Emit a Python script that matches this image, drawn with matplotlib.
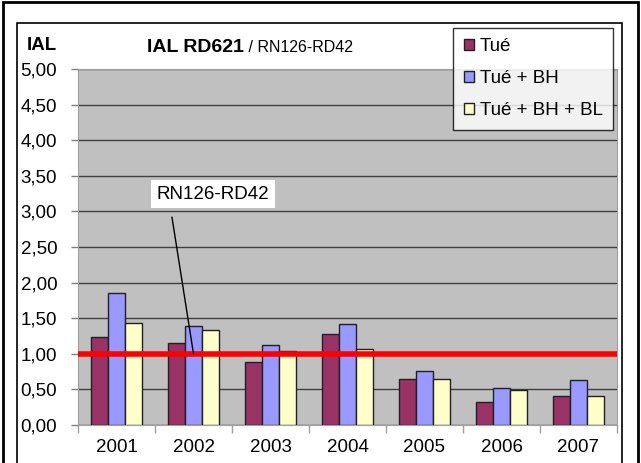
import matplotlib
matplotlib.use("Agg")
import matplotlib.pyplot as plt
import numpy as np
from matplotlib.patches import Rectangle

years = ["2001", "2002", "2003", "2004", "2005", "2006", "2007"]
tue = [1.23, 1.15, 0.88, 1.28, 0.64, 0.33, 0.41]
tue_bh = [1.86, 1.39, 1.12, 1.42, 0.76, 0.52, 0.63]
tue_bh_bl = [1.43, 1.33, 1.04, 1.07, 0.64, 0.49, 0.41]
series_names = ["Tué", "Tué + BH", "Tué + BH + BL"]
colors = ["#993366", "#9999FF", "#FFFFCC"]
ref_level = 1.0
yticks = [0, 0.5, 1.0, 1.5, 2.0, 2.5, 3.0, 3.5, 4.0, 4.5, 5.0]

plt.rcParams['font.family'] = ['Liberation Sans', 'DejaVu Sans']

W, H = 641, 463
fig = plt.figure(figsize=(W / 100, H / 100), dpi=100)

# borders
fig.patches.append(Rectangle((3 / W, -0.05), 635 / W, (H - 2) / H + 0.05, transform=fig.transFigure,
                             fill=False, edgecolor="black", linewidth=2.0))
fig.patches.append(Rectangle((17 / W, -0.05), 605 / W, (H - 23) / H + 0.05, transform=fig.transFigure,
                             fill=False, edgecolor="black", linewidth=1.2))

ax = fig.add_axes([78 / W, 38 / H, 539 / W, 356 / H])
ax.set_facecolor("#C0C0C0")

x = np.arange(len(years))
bw = 0.22
for i, (vals, name, c) in enumerate(zip([tue, tue_bh, tue_bh_bl], series_names, colors)):
    ax.bar(x + (i - 1) * bw, vals, width=bw, color=c, edgecolor="#202020", linewidth=1.0,
           label=name, zorder=3)

ax.axhline(ref_level, color="#FF0000", linewidth=4, zorder=4)

ax.set_xlim(-0.5, len(years) - 0.5)
ax.set_ylim(0, 5)
ax.set_yticks(yticks)
ax.set_yticklabels([f"{v:.2f}".replace(".", ",") for v in yticks], fontsize=13.5)
ax.yaxis.grid(True, color="#404040", linewidth=1.0, zorder=0)
ax.set_axisbelow(True)

ax.set_xticks(x)
ax.set_xticklabels(years, fontsize=13.5)
ax.set_xticks(np.arange(len(years) + 1) - 0.5, minor=True)
ax.tick_params(axis="x", which="major", length=0, pad=10)
ax.tick_params(axis="x", which="minor", length=6, color="#A0A0A0", width=1)
ax.tick_params(axis="y", length=5, color="#808080", width=1, pad=10)

for s in ["top", "right", "left", "bottom"]:
    ax.spines[s].set_color("#A0A0A0")

# titles
fig.text(27 / W, 1 - 46 / H, "IAL", fontsize=13.5, fontweight="bold", va="center", ha="left")
t1 = fig.text(147 / W, 1 - 47 / H, "IAL RD621", fontsize=14, fontweight="bold", va="center", ha="left")
renderer = fig.canvas.get_renderer()
bb = t1.get_window_extent(renderer=renderer)
fig.text(bb.x1 / W, 1 - 48 / H, " / RN126-RD42", fontsize=11.5, va="center", ha="left")

# annotation leader line and label
ax.annotate("", xy=(1.0, 1.0), xytext=(0.72, 2.92),
            arrowprops=dict(arrowstyle="-", color="black", linewidth=1, shrinkA=0, shrinkB=0), zorder=5)
ax.text(1.25, 3.24, "RN126-RD42", fontsize=13.5, ha="center", va="center",
        bbox=dict(boxstyle="square,pad=0.3", fc="white", ec="none"), zorder=5)

leg = ax.legend(loc="upper right", bbox_to_anchor=(613 / W, 1 - 28 / H), bbox_transform=fig.transFigure,
                fontsize=13.5, frameon=True, fancybox=False, edgecolor="black",
                handlelength=0.55, handleheight=0.55, handletextpad=0.3, labelspacing=0.8,
                borderpad=0.55, borderaxespad=0)
leg.get_frame().set_linewidth(1.0)
leg.set_zorder(10)

fig.savefig("out.png", dpi=100)
